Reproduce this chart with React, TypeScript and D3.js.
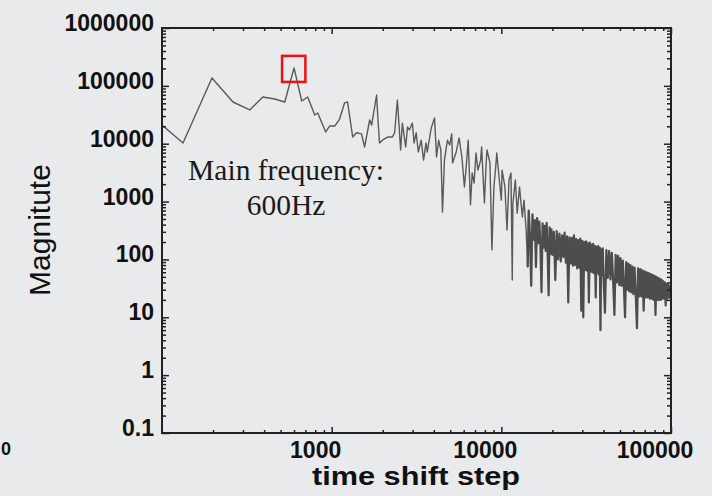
import { useEffect, useRef } from "react";
import * as d3 from "d3";

// low-frequency part of the spectrum (sparse points)
const sparseSteps = [
  100, 133, 197, 262, 329, 393, 462, 529, 600, 666,
  722, 795, 828, 922, 973, 1042, 1114, 1191, 1240, 1330,
  1400, 1500, 1563, 1675, 1720, 1840, 1870, 1915, 1990, 2150,
  2280, 2350, 2440, 2550, 2610, 2730, 2800, 2870, 2990, 3060,
  3150, 3240, 3370, 3480, 3600, 3660, 3860, 4040, 4150, 4270,
  4400, 4500, 4620, 4810, 4960, 5100, 5160, 5420, 5640, 5860,
  6060, 6210, 6380, 6580, 6730, 6910, 7090, 7280, 7550, 7650,
  7950, 8120, 8230, 8570, 8800, 9040, 9270, 9400, 9730, 10000,
  10100, 10500, 10800, 11100, 11400, 11600, 11700, 12100, 12400, 12800,
  13300, 13600, 14000, 14300,
];
const sparseMag = [
  21000, 10300, 137000, 52600, 38300, 64100, 59300, 52600, 204000, 54700,
  64100, 31300, 34000, 16000, 20200, 20200, 26700, 50600, 53000, 13100,
  15500, 14800, 8770, 25700, 21000, 69500, 29000, 10300, 11500, 13100,
  13100, 15500, 57000, 7780, 22700, 8770, 19400, 17300, 22700, 10300,
  15500, 7200, 11500, 5200, 10300, 7200, 18600, 27800, 5890, 11500,
  7780, 661, 5200, 11500, 9500, 14800, 4650, 7200, 12600, 5720,
  1790, 4000, 11500, 880, 3130, 2090, 6900, 3500, 5200, 8770,
  945, 4000, 7780, 4650, 146, 1790, 4000, 6900, 2360, 1060,
  3500, 1790, 323, 2360, 3130, 44, 945, 2360, 630, 1790,
  540, 1060, 323, 74,
];

// high-frequency part (dense noisy band)
const denseSteps = [
  14500, 14750, 15000, 15250, 15500, 15750, 16000, 16250, 16500, 16750,
  17000, 17250, 17500, 17750, 18000, 18250, 18500, 18750, 19000, 19250,
  19500, 19750, 20000,
  20400, 20800, 21200, 21600, 22000, 22400, 22800, 23200, 23600, 24000,
  24400, 24800, 25200, 25600, 26000, 26400, 26800, 27200, 27600, 28000,
  28400, 28800, 29200, 29600, 30000, 30400, 30800, 31200, 31600, 32000,
  32400, 32800, 33200, 33600, 34000, 34400, 34800, 35200, 35600, 36000,
  36400, 36800, 37200, 37600, 38000, 38400, 38800, 39200, 39600, 40000,
  40800, 41600, 42400, 43200, 44000, 44800, 45600, 46400, 47200, 48000,
  48800, 49600, 50400, 51200, 52000, 52800, 53600, 54400, 55200, 56000,
  56800, 57600, 58400, 59200, 60000,
  61000, 62000, 63000, 64000, 65000, 66000, 67000, 68000, 69000, 70000,
  71000, 72000, 73000, 74000, 75000, 76000, 77000, 78000, 79000, 80000,
  81000, 82000, 83000, 84000, 85000, 86000, 87000, 88000, 89000, 90000,
  91000, 92000, 93000, 94000, 95000, 96000, 97000, 98000, 99000, 100000,
];
const denseMag = [
  700, 250, 35, 600, 220, 480, 74, 520, 190, 450,
  170, 27, 420, 160, 380, 140, 430, 130, 24, 360,
  125, 330, 120,
  300, 44, 310, 100, 280, 92, 260, 110, 290, 88,
  250, 18, 240, 85, 235, 78, 260, 80, 225, 70,
  215, 72, 230, 13, 210, 10, 200, 66, 205, 64,
  190, 18, 195, 62, 180, 60, 185, 58, 170, 22,
  165, 58, 170, 55, 160, 6, 150, 54, 155, 52,
  12, 145, 48, 140, 45, 130, 42, 11, 120, 40,
  115, 36, 105, 35, 95, 32, 10, 90, 30, 85,
  28, 80, 27, 75, 25,
  72, 24, 6.5, 70, 23, 68, 23, 65, 13, 62,
  22, 60, 22, 58, 21, 56, 21, 54, 20, 52,
  11, 50, 20, 48, 20, 46, 20, 45, 21, 42,
  21, 40, 16, 38, 21, 37, 22, 35, 22, 28,
];

const xTickValues = [1000, 10000, 100000];
const xTickLabels = ["1000", "10000", "100000"];
const yTickValues = [0.1, 1, 10, 100, 1000, 10000, 100000, 1000000];
const yTickLabels = ["0.1", "1", "10", "100", "1000", "10000", "100000", "1000000"];

// highlighted main frequency box (data coords)
const boxX = [510, 700];
const boxY = [117000, 330000];

export default function App() {
  const ref = useRef<SVGSVGElement>(null);

  useEffect(() => {
    if (!ref.current) return;
    const width = 712;
    const height = 496;
    const margin = { top: 28, right: 41, bottom: 63, left: 162 };
    const x0 = margin.left, x1 = width - margin.right;
    const y0 = margin.top, y1 = height - margin.bottom;

    const svg = d3.select(ref.current);
    svg.selectAll("*").remove();

    svg.append("rect").attr("width", width).attr("height", height).attr("fill", "#e8eaec");

    const x = d3.scaleLog().domain([100, 100000]).range([x0, x1]);
    const y = d3.scaleLog().domain([0.1, 1000000]).range([y1, y0]);

    const sparse: [number, number][] = sparseSteps.map((s, i) => [s, sparseMag[i]]);
    const dense: [number, number][] = denseSteps.map((s, i) => [s, denseMag[i]]);

    svg.append("clipPath").attr("id", "plotclip")
      .append("rect").attr("x", x0).attr("y", y0).attr("width", x1 - x0).attr("height", y1 - y0);

    const line = d3.line<[number, number]>().x(d => x(d[0])).y(d => y(d[1]));
    svg.append("path")
      .datum(sparse.concat([dense[0]]))
      .attr("clip-path", "url(#plotclip)")
      .attr("d", line)
      .attr("fill", "none")
      .attr("stroke", "#5a5a5a")
      .attr("stroke-width", 1.4)
      .attr("stroke-linejoin", "round");
    svg.append("path")
      .datum([sparse[sparse.length - 1]].concat(dense))
      .attr("clip-path", "url(#plotclip)")
      .attr("d", line)
      .attr("fill", "none")
      .attr("stroke", "#4d4d4d")
      .attr("stroke-width", 2.2)
      .attr("stroke-linejoin", "round");

    // minor tick positions
    const xMinor: number[] = [];
    for (let k = 2; k <= 4; k++) for (let m = 2; m <= 9; m++) xMinor.push(m * Math.pow(10, k));
    const yMinor: number[] = [];
    for (let k = -1; k <= 5; k++) for (let m = 2; m <= 9; m++) yMinor.push(+(m * Math.pow(10, k)).toPrecision(3));

    const tickStyle = (g: any) => {
      g.select(".domain").remove();
      g.selectAll("line").attr("stroke", "#222").attr("stroke-width", 1.5);
      g.selectAll("text").remove();
    };

    svg.append("g").attr("transform", `translate(${x0},0)`)
      .call(d3.axisLeft(y).tickValues(yTickValues).tickSize(-7)).call(tickStyle);
    svg.append("g").attr("transform", `translate(${x0},0)`)
      .call(d3.axisLeft(y).tickValues(yMinor).tickSize(-4)).call(tickStyle);
    svg.append("g").attr("transform", `translate(${x1},0)`)
      .call(d3.axisRight(y).tickValues(yTickValues).tickSize(-7)).call(tickStyle);
    svg.append("g").attr("transform", `translate(${x1},0)`)
      .call(d3.axisRight(y).tickValues(yMinor).tickSize(-4)).call(tickStyle);
    svg.append("g").attr("transform", `translate(0,${y1})`)
      .call(d3.axisBottom(x).tickValues(xTickValues).tickSize(-6)).call(tickStyle);
    svg.append("g").attr("transform", `translate(0,${y1})`)
      .call(d3.axisBottom(x).tickValues(xMinor).tickSize(-3)).call(tickStyle);
    svg.append("g").attr("transform", `translate(0,${y0})`)
      .call(d3.axisTop(x).tickValues(xTickValues).tickSize(-6)).call(tickStyle);
    svg.append("g").attr("transform", `translate(0,${y0})`)
      .call(d3.axisTop(x).tickValues(xMinor).tickSize(-3)).call(tickStyle);

    svg.append("rect")
      .attr("x", x0).attr("y", y0).attr("width", x1 - x0).attr("height", y1 - y0)
      .attr("fill", "none").attr("stroke", "#222").attr("stroke-width", 2);

    const sans = "'Liberation Sans', Arial, Helvetica, sans-serif";

    svg.append("g").selectAll("text")
      .data(yTickValues)
      .enter().append("text")
      .attr("x", x0 - 8)
      .attr("y", d => y(d) + 3)
      .attr("text-anchor", "end")
      .style("font-family", sans).style("font-weight", "bold").style("font-size", "23px")
      .attr("fill", "#111")
      .text((_, i) => yTickLabels[i]);

    svg.append("g").selectAll("text")
      .data(xTickValues)
      .enter().append("text")
      .attr("x", d => x(d) - 16)
      .attr("y", 458)
      .attr("text-anchor", "middle")
      .style("font-family", sans).style("font-weight", "bold").style("font-size", "23px")
      .attr("fill", "#111")
      .text((_, i) => xTickLabels[i]);

    svg.append("text")
      .attr("x", 312).attr("y", 485)
      .attr("textLength", 208).attr("lengthAdjust", "spacingAndGlyphs")
      .style("font-family", sans).style("font-weight", "bold").style("font-size", "25px")
      .attr("fill", "#111")
      .text("time shift step");

    svg.append("text")
      .attr("transform", "translate(50,230) rotate(-90)")
      .attr("text-anchor", "middle")
      .style("font-family", sans).style("font-size", "30px")
      .attr("fill", "#111")
      .text("Magnitute");

    svg.append("text")
      .attr("x", 1).attr("y", 455)
      .attr("text-anchor", "start")
      .style("font-family", sans).style("font-weight", "bold").style("font-size", "18px")
      .attr("fill", "#111")
      .text("0");

    const serif = "'Liberation Serif', 'Times New Roman', serif";
    svg.append("text")
      .attr("x", 286).attr("y", 180)
      .attr("text-anchor", "middle")
      .style("font-family", serif).style("font-size", "29.5px")
      .attr("fill", "#1a1a1a")
      .text("Main frequency:");
    svg.append("text")
      .attr("x", 286).attr("y", 215)
      .attr("text-anchor", "middle")
      .style("font-family", serif).style("font-size", "29.5px")
      .attr("fill", "#1a1a1a")
      .text("600Hz");

    svg.append("rect")
      .attr("x", x(boxX[0])).attr("y", y(boxY[1]))
      .attr("width", x(boxX[1]) - x(boxX[0]))
      .attr("height", y(boxY[0]) - y(boxY[1]))
      .attr("fill", "none").attr("stroke", "#ee1111").attr("stroke-width", 2.5);
  }, []);

  return (
    <svg
      ref={ref}
      width={712}
      height={496}
      style={{ position: "absolute", left: 0, top: 0, display: "block" }}
    />
  );
}
